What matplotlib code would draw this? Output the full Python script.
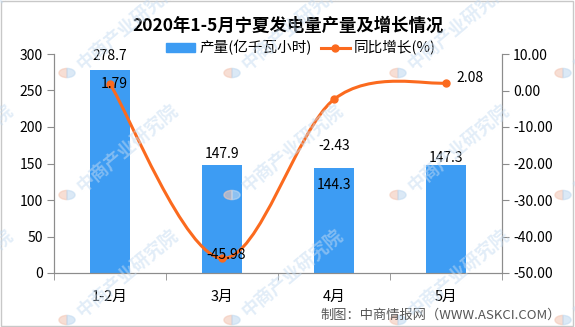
import numpy as np
import matplotlib
matplotlib.use("Agg")
import matplotlib.pyplot as plt
from matplotlib.path import Path
from matplotlib.patches import PathPatch, Patch, Wedge, Rectangle
from matplotlib.lines import Line2D

plt.rcParams['font.family'] = ['Noto Sans CJK SC', 'DejaVu Sans']
plt.rcParams['axes.unicode_minus'] = False

# 2020年1-5月宁夏发电量
months = ['1-2月', '3月', '4月', '5月']
output = [278.7, 147.9, 144.3, 147.3]      # 亿千瓦小时
growth = [1.79, -45.98, -2.43, 2.08]       # %

bar_color = '#3d9cf3'
line_color = '#fb6a1e'
axis_color = '#8c8c8c'

W, H = 575, 327
fig = plt.figure(figsize=(W / 100, H / 100), dpi=100)

def fx(px):
    return px / W

def fy(py):
    return 1 - py / H

ax = fig.add_axes([fx(54), fy(273), fx(502) - fx(54), fy(54) - fy(273)])
ax2 = ax.twinx()

x = np.arange(len(months))
ax.bar(x, output, width=0.355, color=bar_color, zorder=2)
ax.set_xlim(-0.5, len(months) - 0.5)
ax.set_ylim(0, 300)
ax.set_yticks(range(0, 301, 50))
ax2.set_ylim(-50, 10)
ax2.set_yticks(range(-50, 11, 10))
ax2.set_yticklabels(['%.2f' % v for v in range(-50, 11, 10)])

# category labels in the middle, tick marks between categories
ax.set_xticks(x)
ax.set_xticklabels(months, fontsize=10.5)
ax.set_xticks(np.arange(-0.5, len(months), 1), minor=True)
ax.tick_params(axis='x', which='major', length=0, pad=12)
ax.tick_params(axis='x', which='minor', length=5, color=axis_color)
ax.tick_params(axis='y', length=5, color=axis_color, labelsize=10, pad=3)
ax2.tick_params(axis='y', length=5, color=axis_color, labelsize=10, pad=3)

for a in (ax, ax2):
    a.spines['top'].set_visible(False)
    for s in ('left', 'right', 'bottom'):
        a.spines[s].set_color(axis_color)

# smoothed growth line drawn as bezier segments through the points
pts = np.column_stack([x, growth]).astype(float)
verts = [tuple(pts[0])]
codes = [Path.MOVETO]
n = len(pts)
for i in range(n - 1):
    p0 = pts[max(i - 1, 0)]
    p1 = pts[i]
    p2 = pts[i + 1]
    p3 = pts[min(i + 2, n - 1)]
    c1 = p1 + (p2 - p0) / 6
    c2 = p2 - (p3 - p1) / 6
    verts += [tuple(c1), tuple(c2), tuple(p2)]
    codes += [Path.CURVE4] * 3
ax2.add_patch(PathPatch(Path(verts, codes), fill=False, edgecolor=line_color,
                        lw=2.2, zorder=3))
ax2.plot(x, growth, 'o', color=line_color, ms=5, zorder=4)

# value labels
lab = dict(fontsize=10, ha='center', va='center', textcoords='offset pixels', zorder=5)
bar_offsets = [(0, 14), (0, 11), (0, -17), (0, 7)]
for xi, v, off in zip(x, output, bar_offsets):
    ax.annotate('%.1f' % v, (xi, v), xytext=off, **lab)
line_offsets = [(4, 0), (4, 3), (0, -47), (0, 0)]
for xi, v, off in zip(x, growth, line_offsets):
    if xi == len(months) - 1:
        ax2.annotate('%.2f' % v, (xi, v), xytext=(10, 5), fontsize=10, ha='left',
                     va='center', textcoords='offset pixels', zorder=5)
    else:
        ax2.annotate('%.2f' % v, (xi, v), xytext=off, **lab)

fig.text(fx(288), fy(26), '2020年1-5月宁夏发电量产量及增长情况', ha='center',
         va='center', fontsize=12.5, fontweight='bold')

handles = [Patch(color=bar_color),
           Line2D([0], [0], color=line_color, lw=2.2, marker='o', ms=5)]
fig.legend(handles, ['产量(亿千瓦小时)', '同比增长(%)'], loc='center',
           bbox_to_anchor=(fx(301), fy(48)), ncol=2, frameon=False, fontsize=10.5,
           handlelength=2.0, handleheight=0.5, handletextpad=0.3, columnspacing=0.6)

fig.text(fx(561), fy(315), '制图：中商情报网（WWW.ASKCI.COM）', ha='right',
         va='center', fontsize=9.5, color='#555555')

# watermark tiles
for cx in (-98, 67, 232, 398, 563):
    for cy in (73, 195, 320):
        fig.patches.append(Wedge((fx(cx), fy(cy)), 0.014, 90, 270, color='#f3c9b8',
                                 alpha=0.6, transform=fig.transFigure))
        fig.patches.append(Wedge((fx(cx), fy(cy)), 0.014, 270, 90, color='#c3dbf1',
                                 alpha=0.6, transform=fig.transFigure))
        fig.text(fx(cx + 12), fy(cy - 6), '中商产业研究院', rotation=40,
                 rotation_mode='anchor', ha='left', va='center', fontsize=13,
                 fontweight='bold', color='#c6dcf1', alpha=0.5, zorder=10)

fig.patches.append(Rectangle((0.002, 0.003), 0.995, 0.994, fill=False,
                             edgecolor='#c8c8c8', lw=1, transform=fig.transFigure))

fig.savefig('out.png', dpi=100)
